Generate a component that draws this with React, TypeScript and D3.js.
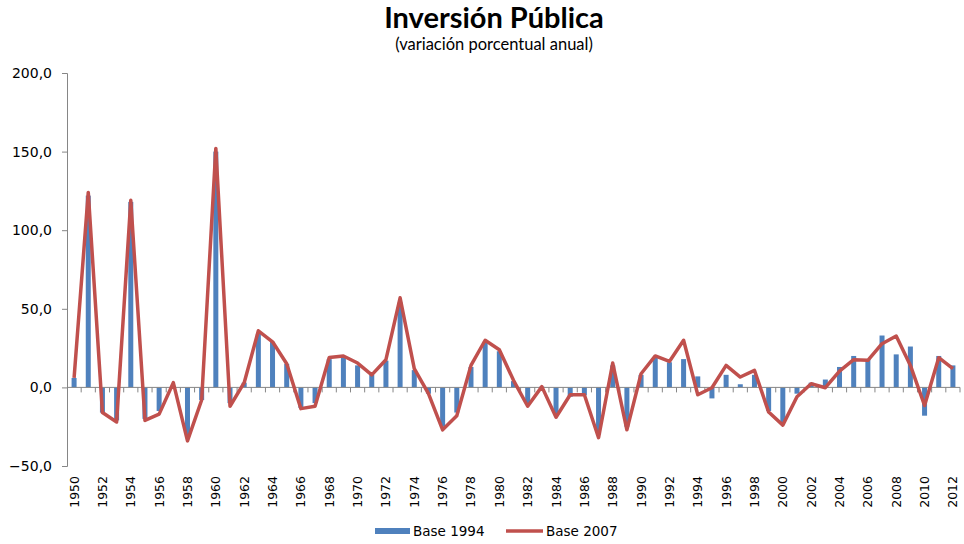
import React, { useEffect, useRef } from 'react';
import * as d3 from 'd3';

const years = d3.range(1950, 2013).map(String);

// Base 1994 (barras)
const base1994 = [
  6, 122, -16, -21, 118, -20, -15, 1, -32, -8,
  150, -10, 3, 34, 29, 15, -13, -10, 18, 19,
  14, 8, 17, 54, 11, -4, -25, -16, 13, 29,
  23, 4, -10, 0.5, -17, -6, -5, -30, 14, -25,
  8, 19, 16, 18, 7, -7, 8, 2, 8, -15,
  -22, -4, 3, 5, 13, 20, 18, 33, 21, 26,
  -18, 20, 14,
];

// Base 2007 (línea)
const base2007 = [
  6, 124, -16, -22, 119, -21, -17, 3, -34, -8,
  152, -12, 3, 36, 29, 15, -13.5, -12, 19, 20,
  15.5, 8, 17.6, 57, 12, -4, -27, -18, 14, 30,
  24, 4.5, -12, 0.5, -19, -4.7, -4.7, -32, 15.5, -27,
  8.7, 20, 16.5, 30, -4.7, -0.2, 14, 6.6, 10.8, -15.7,
  -24, -6, 2.3, -0.2, 10.4, 17.6, 17.2, 27.8, 32.7, 14,
  -11.5, 18.9, 12,
];

const yTicks = [-50, 0, 50, 100, 150, 200];

const App = () => {
  const svgRef = useRef<SVGSVGElement>(null);

  useEffect(() => {
    const svg = d3.select(svgRef.current);
    svg.selectAll('*').remove();

    const left = 67;
    const right = 960;
    const top = 73;
    const bottom = 466;
    const blue = '#4F81BD';
    const red = '#C0504D';
    const axisColor = '#868686';

    const x = d3.scaleBand().domain(years).range([left, right]).paddingInner(0).paddingOuter(0);
    const y = d3.scaleLinear().domain([-50, 200]).range([bottom, top]);
    const cx = (yr: string) => (x(yr) as number) + x.bandwidth() / 2;

    // título
    svg.append('text')
      .attr('x', 494).attr('y', 28)
      .attr('text-anchor', 'middle')
      .attr('font-family', 'Lato, sans-serif')
      .attr('font-weight', 'bold')
      .attr('font-size', 29)
      .text('Inversión Pública');

    svg.append('text')
      .attr('x', 494).attr('y', 50)
      .attr('text-anchor', 'middle')
      .attr('font-family', 'Lato, sans-serif')
      .attr('font-size', 16.5)
      .text('(variación porcentual anual)');

    // barras
    const barW = 5;
    svg.append('g')
      .selectAll('rect')
      .data(years)
      .join('rect')
      .attr('x', d => cx(d) - barW / 2)
      .attr('width', barW)
      .attr('y', (d, i) => y(Math.max(0, base1994[i])))
      .attr('height', (d, i) => Math.abs(y(base1994[i]) - y(0)))
      .attr('fill', blue);

    // eje y
    const yAxis = svg.append('g')
      .attr('transform', `translate(${left},0)`)
      .call(d3.axisLeft(y).tickValues(yTicks).tickSize(5).tickPadding(10).tickFormat(d => d3.format('.1f')(d as number).replace('.', ',')));
    yAxis.select('.domain').attr('stroke', axisColor);
    yAxis.selectAll('.tick line').attr('stroke', axisColor);
    yAxis.selectAll('.tick text')
      .attr('font-family', '"DejaVu Sans", sans-serif')
      .attr('font-size', 14)
      .attr('fill', '#000');

    // eje x en cero
    svg.append('line')
      .attr('x1', left).attr('x2', right)
      .attr('y1', y(0)).attr('y2', y(0))
      .attr('stroke', axisColor);
    svg.append('g')
      .selectAll('line')
      .data(years.slice(1).concat(['end']))
      .join('line')
      .attr('x1', d => (d === 'end' ? right : (x(d) as number)))
      .attr('x2', d => (d === 'end' ? right : (x(d) as number)))
      .attr('y1', y(0)).attr('y2', y(0) + 5)
      .attr('stroke', axisColor);

    // etiquetas de años
    svg.append('g')
      .selectAll('text')
      .data(years.filter((d, i) => i % 2 === 0))
      .join('text')
      .attr('transform', d => `translate(${cx(d) + 4.5},${bottom + 10}) rotate(-90)`)
      .attr('text-anchor', 'end')
      .attr('font-family', '"DejaVu Sans", sans-serif')
      .attr('font-size', 12.5)
      .text(d => d);

    // línea
    const line = d3.line<number>()
      .x((d, i) => cx(years[i]))
      .y(d => y(d));
    svg.append('path')
      .datum(base2007)
      .attr('d', line)
      .attr('fill', 'none')
      .attr('stroke', red)
      .attr('stroke-width', 3.5)
      .attr('stroke-linejoin', 'round');

    // leyenda
    const legend = svg.append('g');
    legend.append('rect')
      .attr('x', 375).attr('y', 528).attr('width', 35).attr('height', 6)
      .attr('fill', blue);
    legend.append('text')
      .attr('x', 413).attr('y', 536)
      .attr('font-family', '"DejaVu Sans", sans-serif')
      .attr('font-size', 13.5)
      .text('Base 1994');
    legend.append('line')
      .attr('x1', 506).attr('x2', 543).attr('y1', 531).attr('y2', 531)
      .attr('stroke', red).attr('stroke-width', 3.5);
    legend.append('text')
      .attr('x', 546).attr('y', 536)
      .attr('font-family', '"DejaVu Sans", sans-serif')
      .attr('font-size', 13.5)
      .text('Base 2007');
  }, []);

  return (
    <svg ref={svgRef} width={964} height={544}
      style={{ position: 'absolute', left: 0, top: 0, background: '#fff' }} />
  );
};

export default App;
